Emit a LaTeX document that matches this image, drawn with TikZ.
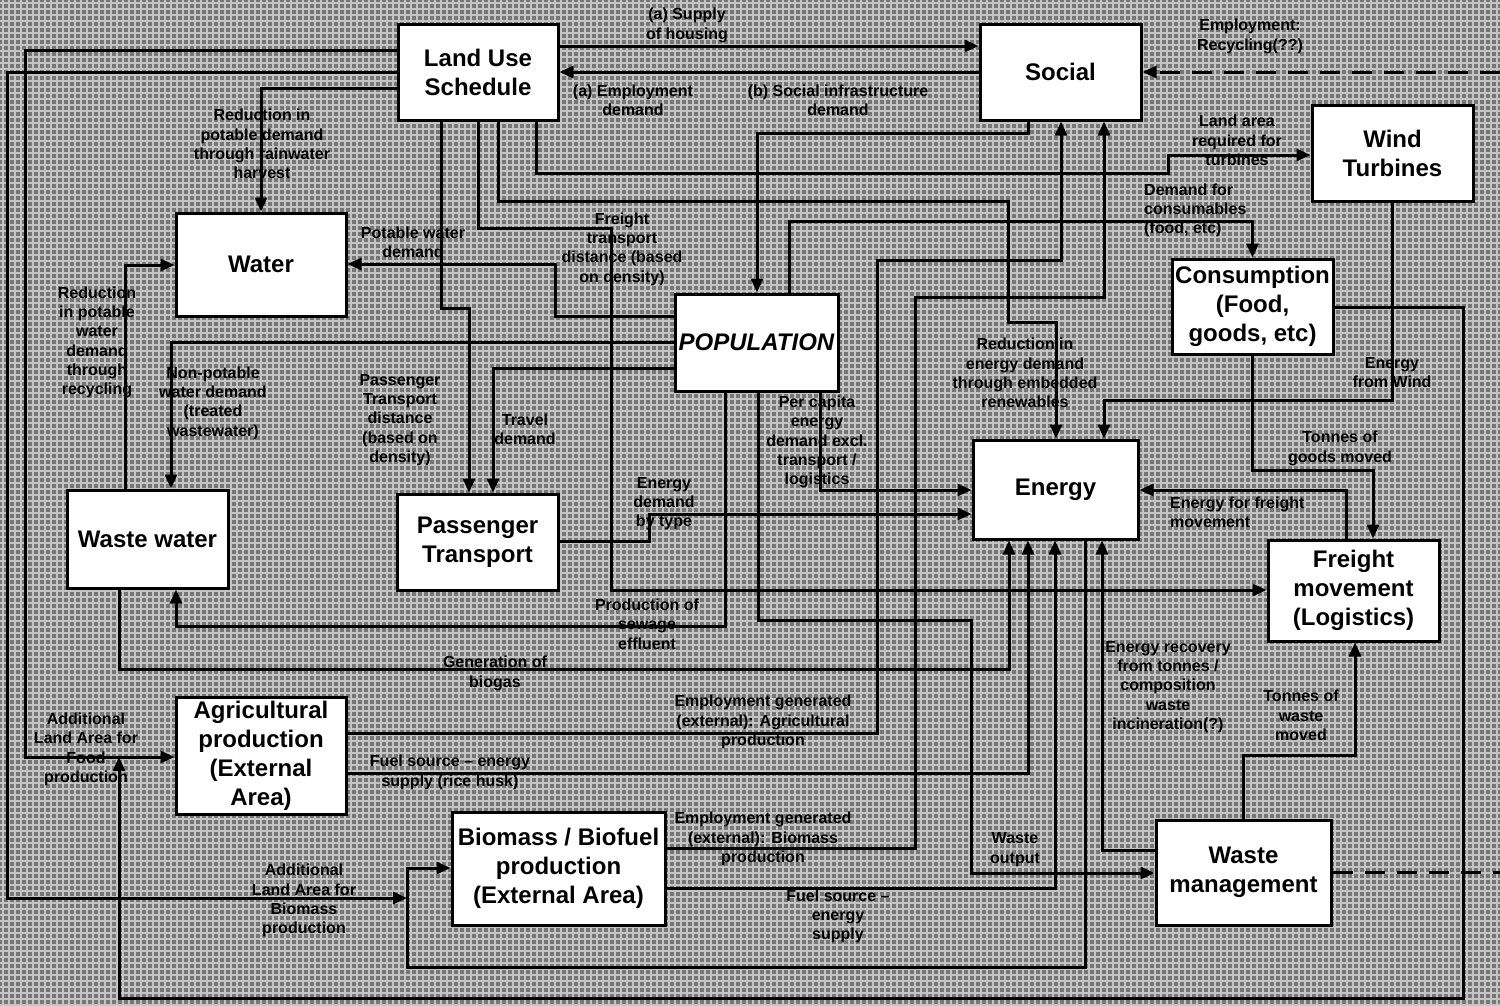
\documentclass[tikz,border=0pt]{standalone}
\usepackage{fontspec}
\setmainfont{Liberation Sans}
\usetikzlibrary{arrows.meta}
\definecolor{bgfill}{RGB}{118,118,118}
\definecolor{gridc}{RGB}{196,196,196}

\begin{document}
\begin{tikzpicture}[x=1pt,y=-1pt,
    box/.style={draw, fill=white, line width=3pt, inner sep=0pt, align=center,
      font=\fontsize{24}{29}\selectfont\bfseries},
    lbl/.style={inner sep=0pt, align=center, font=\fontsize{16}{19.3}\selectfont\bfseries},
    flow/.style={line width=3pt, -{Triangle[length=14pt,width=12pt]}},
    link/.style={line width=3pt},
    gapline/.style={dash pattern=on 20pt off 12pt},
    gridline/.style={line width=1.2pt, draw=gridc}]
  \useasboundingbox (0,0) rectangle (1500,1005);
  \fill[bgfill] (0,0) rectangle (1500,1005);
  \foreach \gx in {3,9,...,1500}
    \draw[gridline] (\gx,0) -- (\gx,1005);
  \foreach \gy in {3,9,...,1005}
    \draw[gridline] (0,\gy) -- (1500,\gy);

  % boxes
  \node[box, minimum width=160pt, minimum height=96pt] (lus) at (478,72) {Land Use\\Schedule};
  \node[box, minimum width=161pt, minimum height=96pt] (social) at (1060.5,72) {Social};
  \node[box, minimum width=161pt, minimum height=96pt] (wind) at (1392.5,153) {Wind\\Turbines};
  \node[box, minimum width=170pt, minimum height=103pt] (water) at (261,264.5) {Water};
  \node[box, minimum width=161pt, minimum height=95pt] (cons) at (1252.5,306.5) {Consumption\\(Food,\\goods, etc)};
  \node[box, minimum width=163pt, minimum height=97pt, font=\fontsize{24}{29}\selectfont\bfseries\itshape] (pop) at (756.5,342.5) {POPULATION};
  \node[box, minimum width=165pt, minimum height=99pt] (energy) at (1055.5,489.5) {Energy};
  \node[box, minimum width=161pt, minimum height=98pt] (ww) at (147.5,539) {Waste water};
  \node[box, minimum width=161pt, minimum height=96pt] (pt) at (477.5,542) {Passenger\\Transport};
  \node[box, minimum width=171pt, minimum height=101pt] (freight) at (1353.5,590.5) {Freight\\movement\\(Logistics)};
  \node[box, minimum width=170pt, minimum height=117pt] (agri) at (261,755.5) {Agricultural\\production\\(External\\Area)};
  \node[box, minimum width=213pt, minimum height=113pt] (bio) at (558.5,868.5) {Biomass / Biofuel\\production\\(External Area)};
  \node[box, minimum width=175pt, minimum height=105pt] (waste) at (1243.5,872.5) {Waste\\management};

  \coordinate (edgeA) at (1500,72);
  \coordinate (edgeB) at (1500,872.5);
  \coordinate (foodjoin) at (119,757);
  \coordinate (biojoin) at (407,898);

  % links
  \draw[flow] (lus.east |- 0,46) -- (social.west |- 0,46);
  \draw[flow] (social.west) -- (lus.east);
  \draw[flow, gapline] (edgeA) -- (social.east);
  \draw[link, gapline] (waste.east) -- (edgeB);
  \draw[flow] (lus.west |- 0,50) -| (25,757) -- (agri.west |- 0,757);
  \draw[flow] (lus.west) -| (7,898) -- (biojoin);
  \draw[flow] (lus.west |- 0,88) -| (water.north);
  \draw[flow] (lus.south -| 441,0) |- (469,308) -- (pt.north -| 469,0);
  \draw[flow] (lus.south -| 478,0) |- (611,228) |- (freight.west |- 0,590);
  \draw[flow] (lus.south -| 498,0) |- (1008,201) |- (1056,322) -- (energy.north -| 1056,0);
  \draw[flow] (lus.south -| 536,0) |- (1168,173) |- (wind.west |- 0,155);
  \draw[flow] (social.south -| 1028,0) |- (757,133) -- (pop.north -| 757,0);
  \draw[flow] (pop.north -| 789,0) |- (1252.5,221) -- (cons.north);
  \draw[flow] (agri.east |- 0,733) -| (877,260) -| (social.south -| 1061,0);
  \draw[flow] (bio.east |- 0,848) -| (915,297) -| (social.south -| 1104,0);
  \draw[flow] (pop.west |- 0,316) -| (555,264) -- (water.east |- 0,264);
  \draw[flow] (pop.west) -| (ww.north -| 171,0);
  \draw[flow] (pop.west |- 0,368) -| (pt.north -| 493,0);
  \draw[flow] (pop.south -| 725,0) |- (176,626) -- (ww.south -| 176,0);
  \draw[flow] (pop.south -| 758,0) |- (971,620) |- (waste.west |- 0,873);
  \draw[flow] (pop.south -| 820,0) |- (energy.west |- 0,490);
  \draw[flow] (pt.east |- 0,541) -| (649,514) -- (energy.west |- 0,514);
  \draw[flow] (ww.north -| 125,0) |- (water.west |- 0,265);
  \draw[flow] (ww.south -| 119,0) |- (1009,669) -- (energy.south -| 1009,0);
  \draw[flow] (agri.east |- 0,773) -| (energy.south -| 1028,0);
  \draw[flow] (bio.east |- 0,888) -| (energy.south -| 1055,0);
  \draw[flow] (energy.south -| 1085,0) |- (407,967) |- (bio.west |- 0,868);
  \draw[flow] (waste.west |- 0,850) -| (energy.south -| 1102,0);
  \draw[flow] (waste.north -| 1243,0) |- (1355,755) -- (freight.south -| 1355,0);
  \draw[flow] (cons.south) |- (1373,470) -- (freight.north -| 1373,0);
  \draw[flow] (freight.north -| 1346,0) |- (energy.east |- 0,490);
  \draw[flow] (wind.south) |- (1104,400) -- (energy.north -| 1104,0);
  \draw[flow] (cons.east |- 0,307) -| (1463,998) -| (foodjoin);

  % labels
  \node[lbl] (tHousing) at (687,25.5) {(a) Supply\\of housing};
  \node[lbl] (tEmpDemand) at (633,100.5) {(a) Employment\\demand};
  \node[lbl] (tSocInfra) at (838,100.5) {(b) Social infrastructure\\demand};
  \node[lbl] (tRecycling) at (1250,36.5) {Employment:\\Recycling(??)};
  \node[lbl] (tTurbines) at (1237,140.5) {Land area\\required for\\turbines};
  \node[lbl, align=left, anchor=west] (tConsum) at (1144,210.5) {Demand for\\consumables\\(food, etc)};
  \node[lbl] (tRain) at (262,144) {Reduction in\\potable demand\\through rainwater\\harvest};
  \node[lbl] (tPotable) at (413,242) {Potable water\\demand};
  \node[lbl] (tFreightDist) at (622,249) {Freight\\transport\\distance (based\\on density)};
  \node[lbl] (tRecycle) at (97,342.5) {Reduction\\in potable\\water\\demand\\through\\recycling};
  \node[lbl] (tNonPot) at (213,403) {Non-potable\\water demand\\(treated\\wastewater)};
  \node[lbl] (tPassDist) at (400,420) {Passenger\\Transport\\distance\\(based on\\density)};
  \node[lbl] (tTravel) at (525,429.5) {Travel\\demand};
  \node[lbl] (tByType) at (664,503.5) {Energy\\demand\\by type};
  \node[lbl] (tPerCap) at (817,442) {Per capita\\energy\\demand excl.\\transport /\\logistics};
  \node[lbl] (tEmbedded) at (1025,373) {Reduction in\\energy demand\\through embedded\\renewables};
  \node[lbl] (tFromWind) at (1392,372.5) {Energy\\from Wind};
  \node[lbl] (tGoods) at (1340,448.5) {Tonnes of\\goods moved};
  \node[lbl, align=left, anchor=west] (tFreightEn) at (1170,512.5) {Energy for freight\\movement};
  \node[lbl] (tSewage) at (647,624) {Production of\\sewage\\effluent};
  \node[lbl] (tBiogas) at (495,673.5) {Generation of\\biogas};
  \node[lbl] (tRecovery) at (1168,687) {Energy recovery\\from tonnes /\\composition\\waste\\incineration(?)};
  \node[lbl] (tWasteMoved) at (1301,715.5) {Tonnes of\\waste\\moved};
  \node[lbl] (tFoodLand) at (86,749.5) {Additional\\Land Area for\\Food\\production};
  \node[lbl] (tEmpAgri) at (763,722) {Employment generated\\(external): Agricultural\\production};
  \node[lbl] (tRiceHusk) at (450,772.5) {Fuel source – energy\\supply (rice husk)};
  \node[lbl] (tEmpBio) at (763,839) {Employment generated\\(external): Biomass\\production};
  \node[lbl] (tWasteOut) at (1015,849.5) {Waste\\output};
  \node[lbl] (tBioLand) at (304,900.5) {Additional\\Land Area for\\Biomass\\production};
  \node[lbl] (tBioFuel) at (838,916.5) {Fuel source –\\energy\\supply};
\end{tikzpicture}
\end{document}
